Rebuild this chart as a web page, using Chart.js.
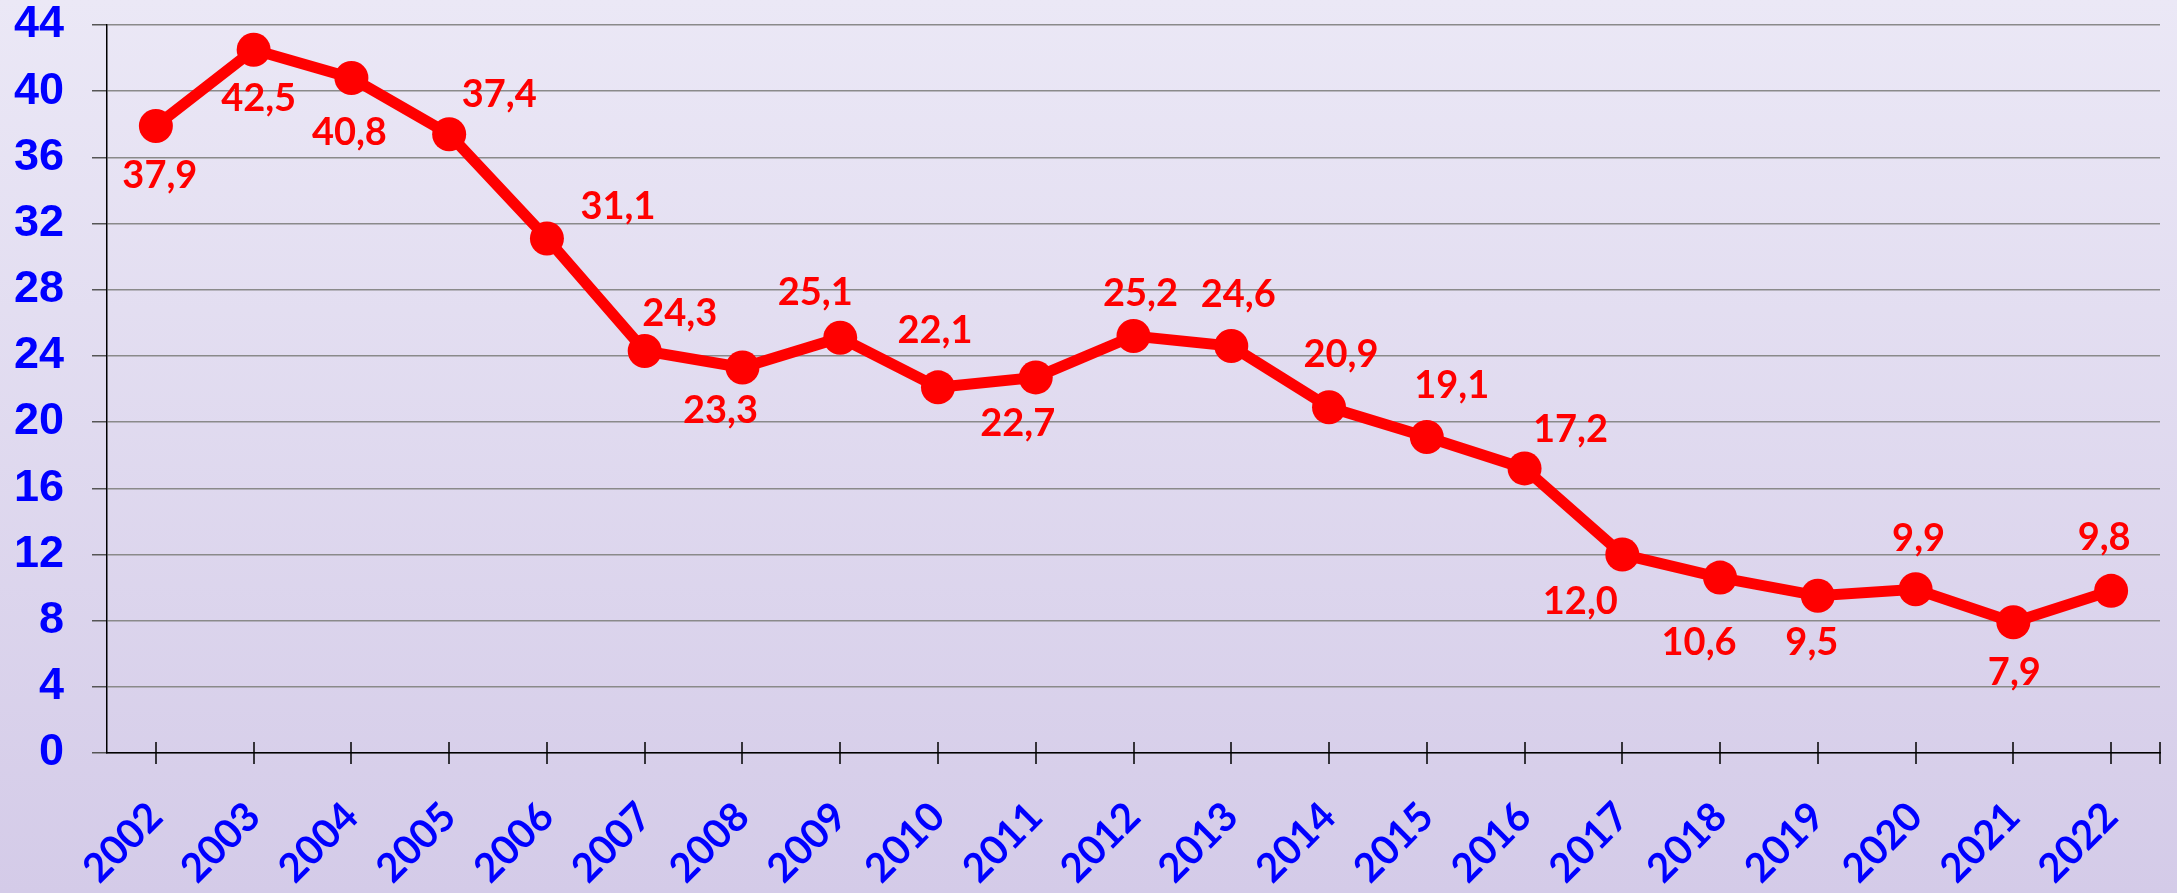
<!DOCTYPE html>
<html>
<head>
<meta charset="utf-8">
<script src="https://cdn.jsdelivr.net/npm/chart.js@4.4.1/dist/chart.umd.min.js"></script>
<style>
html,body{margin:0;padding:0;background:#dfdaf0;}
#wrap{width:2177px;height:893px;position:relative;}
</style>
</head>
<body>
<div id="wrap"><canvas id="chart1"></canvas></div>
<script>
const years = ['2002','2003','2004','2005','2006','2007','2008','2009','2010','2011','2012','2013','2014','2015','2016','2017','2018','2019','2020','2021','2022'];
const values = [37.9,42.5,40.8,37.4,31.1,24.3,23.3,25.1,22.1,22.7,25.2,24.6,20.9,19.1,17.2,12.0,10.6,9.5,9.9,7.9,9.8];
const yTicks = [0,4,8,12,16,20,24,28,32,36,40,44];
// where each value label sits relative to its point (dx, dy)
const labelOffsets = [[4,50],[5,49],[-2,55],[50,-39],[71,-32],[35,-37],[-22,43],[-25,-45],[-3,-57],[-18,46],[7,-42],[7,-51],[12,-52],[25,-51],[46,-39],[-42,47],[-21,65],[-6,47],[3,-50],[1,50],[-7,-53]];

const ctx = document.querySelector('#chart1').getContext('2d');

const bgPlugin = {
	id:'bg',
	beforeDraw(chart){
		const c = chart.ctx;
		const g = c.createLinearGradient(0,0,0,chart.height);
		g.addColorStop(0,'#ebe8f6');
		g.addColorStop(1,'#d4cbe8');
		c.save();
		c.fillStyle = g;
		c.fillRect(0,0,chart.width,chart.height);
		c.restore();
	}
};

const ticksPlugin = {
	id:'xticks',
	afterDraw(chart){
		const c = chart.ctx;
		const xs = chart.scales.x;
		const yb = chart.chartArea.bottom;
		c.save();
		c.strokeStyle = '#000';
		c.lineWidth = 1.5;
		c.beginPath();
		xs.ticks.forEach((t,i)=>{
			const x = Math.round(xs.getPixelForTick(i));
			c.moveTo(x,yb-11);
			c.lineTo(x,yb+11);
		});
		c.moveTo(xs.right,yb-11);
		c.lineTo(xs.right,yb+11);
		c.stroke();
		c.restore();
	}
};

const labelPlugin = {
	id:'vlabels',
	afterDatasetsDraw(chart){
		const c = chart.ctx;
		const meta = chart.getDatasetMeta(0);
		c.save();
		c.fillStyle = '#ff0000';
		c.font = 'bold 38px Lato';
		c.textAlign = 'center';
		c.textBaseline = 'middle';
		meta.data.forEach((p,i)=>{
			const o = labelOffsets[i];
			c.fillText(values[i].toFixed(1).replace('.',','), p.x+o[0], p.y+o[1]);
		});
		c.restore();
	}
};

let chart1 = new Chart(ctx,{
	type:'line',
	data:{
		labels:years,
		datasets:[{
			data:values,
			borderColor:'#ff0000',
			backgroundColor:'#ff0000',
			borderWidth:11,
			pointRadius:17,
			pointHoverRadius:17,
			pointBackgroundColor:'#ff0000',
			pointBorderWidth:0,
			tension:0,
			fill:false
		}]
	},
	options:{
		responsive:true,
		maintainAspectRatio:false,
		animation:false,
		layout:{padding:{top:25,right:12,left:0,bottom:0}},
		plugins:{
			legend:{display:false},
			tooltip:{enabled:false}
		},
		scales:{
			x:{
				offset:true,
				grid:{display:false},
				border:{display:true,color:'#000',width:1.5},
				ticks:{
					color:'#0000ff',
					font:{family:'Lato',weight:'bold',size:40},
					minRotation:45,
					maxRotation:45,
					padding:32,
					autoSkip:false
				},
				afterFit(s){ s.height = 140; s.paddingLeft = 0; s.paddingRight = 0; }
			},
			y:{
				min:0,
				max:44,
				afterBuildTicks(s){ s.ticks = yTicks.map(v=>({value:v})); },
				grid:{
					color:'#8a8a8a',
					lineWidth:1.5,
					tickLength:15,
					tickColor:'#555',
					drawTicks:true
				},
				border:{display:true,color:'#000',width:1.5},
				ticks:{
					color:'#0000ff',
					font:{family:'Liberation Sans',weight:'bold',size:45},
					padding:28
				},
				afterFit(s){ s.width = 107; s.paddingTop = 0; s.paddingBottom = 0; }
			}
		}
	},
	plugins:[bgPlugin,ticksPlugin,labelPlugin]
});
</script>
</body>
</html>
